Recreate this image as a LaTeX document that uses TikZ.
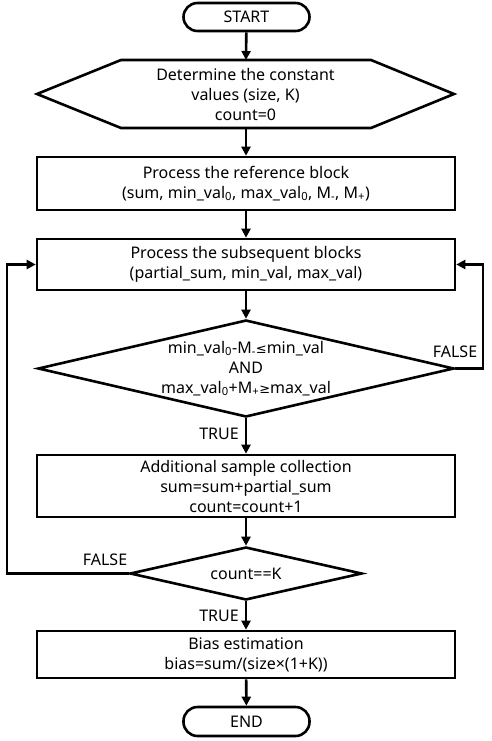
\documentclass[tikz,border=0pt]{standalone}
\usepackage{fontspec}
\setmainfont{Noto Sans}
\newfontfamily\symf{DejaVu Sans}
\usetikzlibrary{shapes.geometric,arrows.meta}
\begin{document}
\begin{tikzpicture}[x=1pt,y=-1pt,
  every node/.style={font=\fontsize{16}{20}\selectfont, align=center, inner sep=0pt},
  box/.style={draw, line width=2.6pt, minimum width=418pt},
  term/.style={draw, line width=2.6pt, rounded corners=14pt, minimum width=126pt, minimum height=28pt},
  dia/.style={draw, diamond, line width=2.6pt, inner sep=0pt},
  conn/.style={line width=2.6pt, -{Triangle[length=9pt,width=9pt]}},
  lbl/.style={font=\fontsize{16}{20}\selectfont}]
\useasboundingbox (0,0) rectangle (491,741);
\node[term] (start) at (246.5,17) {START};
% hexagon
\node (init) at (245.5,95) {Determine the constant\\values (size, K)\\count=0};
\draw[line width=2.6pt, line join=miter] (37,94) -- (121,60) -- (371,60) -- (454,94) -- (371,128) -- (121,128) -- cycle;
\coordinate (initN) at (246,60);
\coordinate (initS) at (246,128);
\node[box, minimum height=53pt] (ref) at (246,183.5) {Process the reference block\\(sum, min\_val\textsubscript{0}, max\_val\textsubscript{0}, M\textsubscript{-}, M\textsubscript{+})};
\node[box, minimum height=51pt] (sub) at (246,264.5) {Process the subsequent blocks\\(partial\_sum, min\_val, max\_val)};
\node[dia, minimum width=416pt, minimum height=97pt] (d1) at (246,368.5) {};
\node at (d1) {min\_val\textsubscript{0}-M\textsubscript{-}{\symf\fontsize{13}{14}\selectfont≤}min\_val\\AND\\max\_val\textsubscript{0}+M\textsubscript{+}{\symf\fontsize{13}{14}\selectfont≥}max\_val};
\node[box, minimum height=62pt] (add) at (246,486) {Additional sample collection\\sum=sum+partial\_sum\\count=count+1};
\node[dia, minimum width=232pt, minimum height=53pt] (d2) at (246,573.5) {};
\node at (d2) {count==K};
\node[box, minimum height=47pt] (bias) at (246,654.5) {Bias estimation\\bias=sum/(size×(1+K))};
\node[term, minimum height=29pt] (end) at (246.5,721.5) {END};
\draw[conn] (start) -- (initN);
\draw[conn] (initS) -- (ref);
\draw[conn] (ref) -- (sub);
\draw[conn] (sub) -- (d1);
\draw[conn] (d1) -- node[lbl, left=6pt, pos=0.45] {TRUE} (add);
\draw[conn] (add) -- (d2);
\draw[conn] (d2) -- node[lbl, left=6pt, pos=0.5] {TRUE} (bias);
\draw[conn] (bias) -- (end);
\coordinate (r1) at (483,368.5);
\coordinate (r2) at (483,264.5);
\draw[conn, line join=miter] (d1.east) -- (r1) -- (r2) -- (sub.east);
\node[lbl] (f1) at (455,352) {FALSE};
\coordinate (l1) at (7,573.5);
\coordinate (l2) at (7,264.5);
\draw[conn, line join=miter] (d2.west) -- (l1) -- (l2) -- (sub.west);
\node[lbl] (f2) at (105,560) {FALSE};
\end{tikzpicture}
\end{document}
